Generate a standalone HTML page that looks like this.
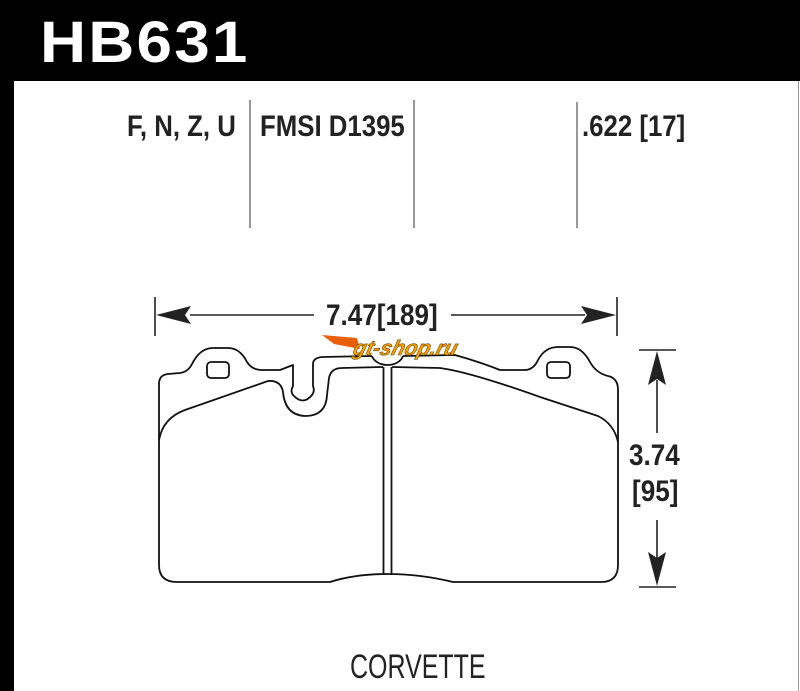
<!DOCTYPE html>
<html><head><meta charset="utf-8"><style>
html,body{margin:0;padding:0;background:#fff}
body{width:800px;height:691px;overflow:hidden;position:relative;font-family:"Liberation Sans",sans-serif}
svg{position:absolute;left:0;top:0}
</style></head><body>
<svg width="800" height="691" viewBox="0 0 800 691" xmlns="http://www.w3.org/2000/svg">
<rect x="0" y="0" width="800" height="81" fill="#000"/>
<rect x="0" y="0" width="14" height="691" fill="#000"/>
<line x1="798.5" y1="81" x2="798.5" y2="691" stroke="#999" stroke-width="1"/>
<text fill="#fff" font-family="Liberation Sans" font-weight="bold" font-size="58" transform="translate(40 62) scale(1.1 1)" letter-spacing="2">HB631</text>

<g font-family="Liberation Sans" font-weight="bold" fill="#222" font-size="30">
<text transform="translate(127 136) scale(0.86 1)">F, N, Z, U</text>
<text transform="translate(260 136) scale(0.86 1)">FMSI D1395</text>
<text transform="translate(582 136) scale(0.86 1)">.622 [17]</text>
<text transform="translate(326 325) scale(0.87 1)">7.47[189]</text>
<text transform="translate(629 465) scale(0.87 1)">3.74</text>
<text transform="translate(632 501) scale(0.87 1)">[95]</text>
</g>
<text transform="translate(350 678) scale(0.735 1)" font-family="Liberation Sans" font-size="34" fill="#222">CORVETTE</text>

<g stroke="#777" stroke-width="1.5">
<line x1="250" y1="100" x2="250" y2="228"/>
<line x1="414" y1="100" x2="414" y2="228"/>
<line x1="577" y1="102" x2="577" y2="228"/>
</g>

<g stroke="#222" stroke-width="1.6" fill="#222">
<line x1="155" y1="297" x2="155" y2="336"/>
<line x1="617" y1="297" x2="617" y2="336"/>
<line x1="190" y1="315" x2="314" y2="315"/>
<line x1="451" y1="315" x2="585" y2="315"/>
<polygon points="156,315 191,306 185,315 191,324" stroke="none"/>
<polygon points="616,315 581,306 587,315 581,324" stroke="none"/>
<line x1="639" y1="350" x2="676" y2="350"/>
<line x1="639" y1="587" x2="676" y2="587"/>
<line x1="657" y1="380" x2="657" y2="433"/>
<line x1="657" y1="520" x2="657" y2="560"/>
<polygon points="657,351 648,385 657,379 666,385" stroke="none"/>
<polygon points="657,586 648,552 657,558 666,552" stroke="none"/>
</g>

<g fill="none" stroke="#111" stroke-width="1.8" stroke-linejoin="round">
<path d="M403,356 L455,355 Q480,362 500,370 L526,370 Q534,369 538,360 Q545,347 558,347 L570,347 Q582,347 590,362 Q596,373 608,376 Q618,378 618,390 L618,565 Q618,582 601,582 L453,582 Q420,574 388,574 Q355,574 330,582 L177,582 Q159,582 159,565 L159,384 Q159,375 168,374 L180,373 Q188,372 192,364 Q200,348 213,348 L228,348 Q240,348 247,362 Q252,370 262,370 L280,370 L293,365 L293,386 Q290,391 293,395 Q303,406 312,395 Q315,391 313,386 L313,364 Q313,358 322,357 L372,356"/>
<path d="M372,356 A16,12 0 0 0 403,356"/>
<path d="M159,440 Q163,418 185,410 L268,381 Q281,380 283,392 Q285,415 305,416 Q326,416 327,395 L329,378 Q331,368 342,368 L383,367"/>
<path d="M392,367 L440,368 Q470,372 540,397 L598,416 Q614,424 618,442"/>
<line x1="383.5" y1="367" x2="383.5" y2="575"/>
<line x1="391.5" y1="367" x2="391.5" y2="575"/>
<rect x="207" y="362" width="22" height="16" rx="4"/>
<rect x="547" y="362" width="23" height="16" rx="4"/>
</g>

<g transform="translate(322 341)">
<polygon points="0,-6 35,-3 38,8 12,3" fill="#e8600a"/>
<text transform="translate(30 14) skewX(-15)" font-family="Liberation Sans" font-weight="bold" font-style="italic" font-size="21" fill="#f5a300" stroke="#6b4000" stroke-width="0.6">gt-shop.ru</text>
</g>
</svg>
</body></html>
